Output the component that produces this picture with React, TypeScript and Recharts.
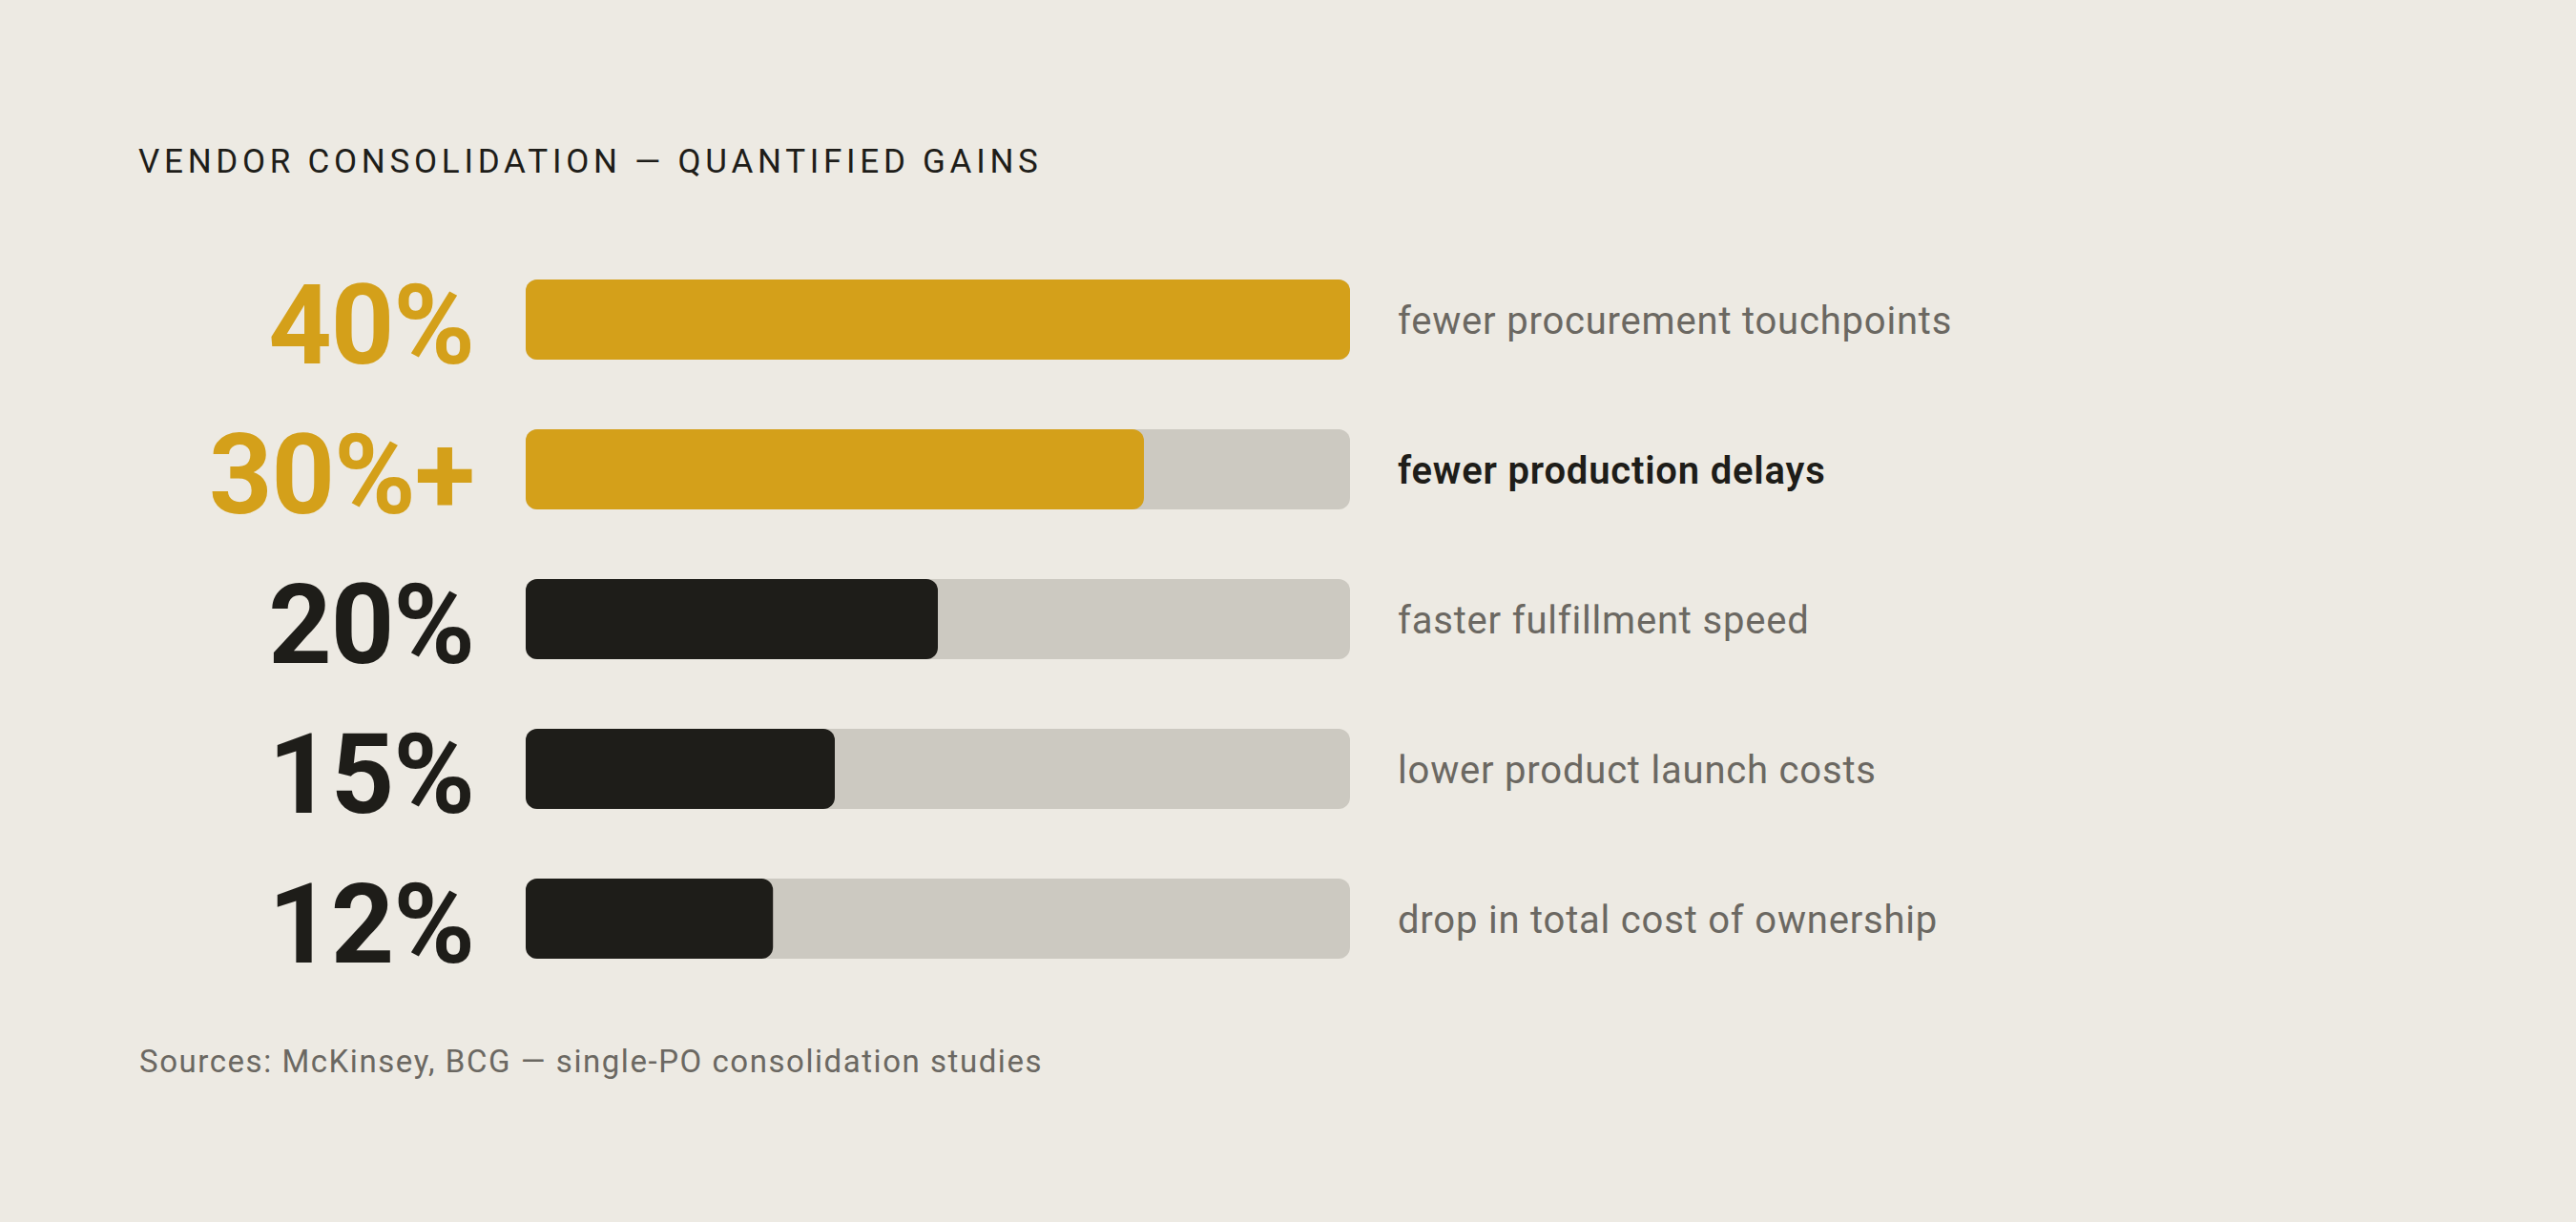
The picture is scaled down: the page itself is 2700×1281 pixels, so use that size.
import { BarChart, Bar, XAxis, YAxis, Cell } from "recharts";

const metrics = ["40%", "30%+", "20%", "15%", "12%"];
const values = [40, 30, 20, 15, 12];
const descriptions = [
  "fewer procurement touchpoints",
  "fewer production delays",
  "faster fulfillment speed",
  "lower product launch costs",
  "drop in total cost of ownership",
];
const emphasized = "fewer production delays";
const maxValue = 40;

const BG = "#EDEAE3";
const GOLD = "#D4A01A";
const DARK = "#1E1D19";
const TRACK = "#CCC9C1";
const MUTED = "#6B6862";
const FONT = "Roboto, 'Noto Sans', sans-serif";

const data = metrics.map((m, i) => ({ metric: m, value: values[i], desc: descriptions[i] }));
const tone = (v: number) => (v >= 30 ? GOLD : DARK);

function MetricTick({ x, y, payload, index }: any) {
  const v = values[index ?? metrics.indexOf(payload.value)];
  return (
    <text x={x} y={y + 46} textAnchor="end" fontFamily={FONT} fontWeight={700} fontSize={116} fill={tone(v)} letterSpacing={-1}>
      {payload.value}
    </text>
  );
}

function DescTick({ x, y, payload }: any) {
  const strong = payload.value === emphasized;
  return (
    <text x={x} y={y + 15} textAnchor="start" fontFamily={FONT} fontWeight={strong ? 600 : 400} fontSize={40} letterSpacing={0.8} fill={strong ? DARK : MUTED}>
      {payload.value}
    </text>
  );
}

export default function App() {
  return (
    <div style={{ position: "absolute", left: 0, top: 0, width: 2700, height: 1281, background: BG, overflow: "hidden" }}>
      <div style={{ position: "absolute", left: 145, top: 152, fontFamily: FONT, fontSize: 35, lineHeight: 1, letterSpacing: "0.135em", color: DARK, whiteSpace: "nowrap" }}>
        VENDOR CONSOLIDATION — QUANTIFIED GAINS
      </div>

      <div style={{ position: "absolute", left: 0, top: 256 }}>
        <BarChart width={2700} height={785} data={data} layout="vertical" margin={{ top: 0, right: 0, bottom: 0, left: 0 }} barSize={84}>
          <XAxis type="number" domain={[0, maxValue]} hide />
          <YAxis yAxisId="left" type="category" dataKey="metric" width={551} axisLine={false} tickLine={false} tickSize={0} tickMargin={54} tick={<MetricTick />} interval={0} />
          <YAxis yAxisId="right" orientation="right" type="category" dataKey="desc" width={1285} axisLine={false} tickLine={false} tickSize={0} tickMargin={50} tick={<DescTick />} interval={0} />
          <Bar yAxisId="left" dataKey="value" radius={12} background={{ fill: TRACK, radius: 12 }} isAnimationActive={false}>
            {data.map((d) => (
              <Cell key={d.metric} fill={tone(d.value)} />
            ))}
          </Bar>
        </BarChart>
      </div>

      <div style={{ position: "absolute", left: 146, top: 1096, fontFamily: FONT, fontSize: 33, lineHeight: 1, letterSpacing: "0.047em", color: MUTED, whiteSpace: "nowrap" }}>
        Sources: McKinsey, BCG — single-PO consolidation studies
      </div>
    </div>
  );
}
